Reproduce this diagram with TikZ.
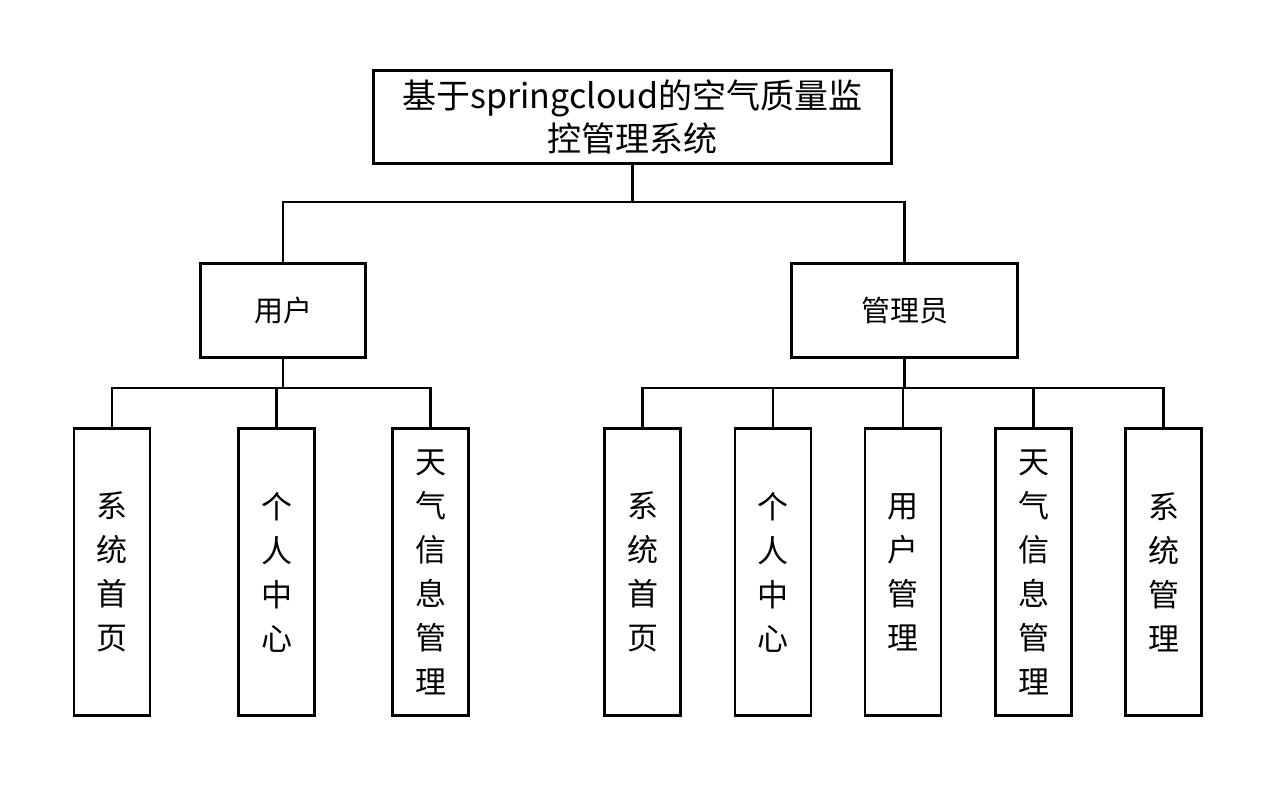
\documentclass[tikz,border=0pt]{standalone}
\usepackage{fontspec}
\setmainfont{Noto Sans CJK SC}
\usetikzlibrary{positioning}

\tikzset{
  box/.style={draw, line width=2.8pt, inner sep=0pt, align=center, fill=white},
  leaf/.style={box, minimum width=76pt, minimum height=287pt, font=\fontsize{31}{44}\selectfont},
  link/.style={line width=2.8pt}
}

\begin{document}
\begin{tikzpicture}[x=1pt,y=-1pt]
    \useasboundingbox (0,0) rectangle (1280,800);
    % Draw root and the two roles
    \node[box, minimum width=518pt, minimum height=93pt, font=\fontsize{34}{43}\selectfont] (sys) at (632.5,117) {基于springcloud的空气质量监\\控管理系统};
    \node[box, minimum width=165pt, minimum height=94pt, font=\fontsize{29}{34}\selectfont] (user) at (283,310.5) {用户};
    \node[box, minimum width=226pt, minimum height=94pt, font=\fontsize{29}{34}\selectfont] (admin) at (904.5,310.5) {管理员};
    \draw[link] (sys.south) -- ++(0,37) -| (user.north);
    \draw[link] (sys.south) -- ++(0,37) -| (admin.north);
    % Draw the function boxes of the user
    \foreach \x/\name/\txt in {112/u1/{系\\统\\首\\页}, 276.5/u2/{个\\人\\中\\心}, 430.5/u3/{天\\气\\信\\息\\管\\理}}{
        \node[leaf] (\name) at (\x,572) {\txt};
        \draw[link] (user.south) -- ++(0,29) -| (\name.north);
    }
    % Draw the function boxes of the admin
    \foreach \x/\name/\txt in {642.5/a1/{系\\统\\首\\页}, 773/a2/{个\\人\\中\\心}, 903/a3/{用\\户\\管\\理}, 1033.5/a4/{天\\气\\信\\息\\管\\理}, 1163.5/a5/{系\\统\\管\\理}}{
        \node[leaf] (\name) at (\x,572) {\txt};
        \draw[link] (admin.south) -- ++(0,29) -| (\name.north);
    }
\end{tikzpicture}
\end{document}
